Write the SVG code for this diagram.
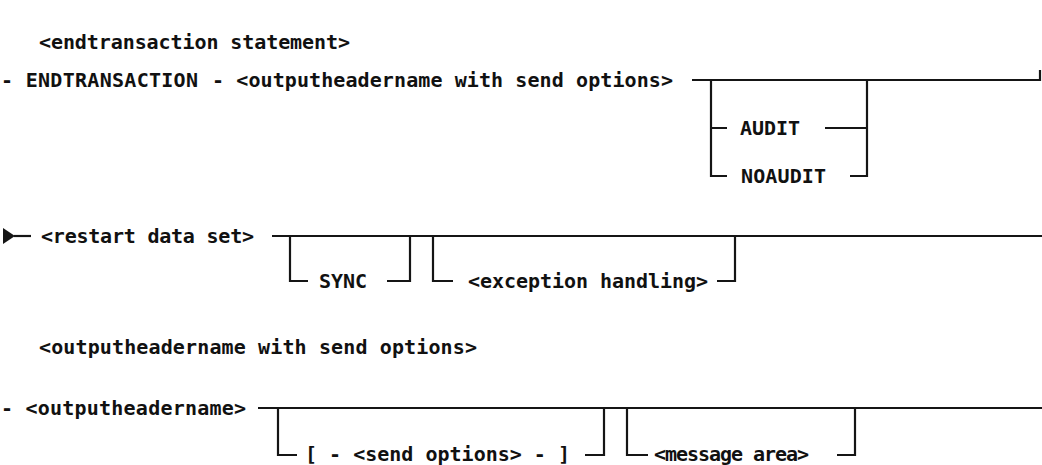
<svg xmlns="http://www.w3.org/2000/svg" width="1042" height="465" viewBox="0 0 1042 465">
  <style>
    .t { font-family: "DejaVu Sans Mono", "Liberation Mono", monospace; font-weight: bold; font-size: 20px; fill: #111; }
    .c { fill: none; stroke: #151515; stroke-width: 2.2; stroke-linecap: butt; stroke-linejoin: miter; }
  </style>
  <rect width="1042" height="465" fill="#fff"/>

  <!-- syntax: endtransaction statement -->
  <g id="title-endtransaction">
    <text class="t" x="39" y="49" textLength="311" lengthAdjust="spacing">&lt;endtransaction statement&gt;</text>
  </g>
  <g id="kw-endtransaction">
    <text class="t" x="1" y="87" textLength="197" lengthAdjust="spacing">- ENDTRANSACTION</text>
  </g>
  <g id="ref-outputheadername-send">
    <text class="t" x="212" y="87" textLength="461" lengthAdjust="spacing">- &lt;outputheadername with send options&gt;</text>
  </g>
  <g id="opt-audit">
    <text class="t" x="740" y="135" textLength="60" lengthAdjust="spacing">AUDIT</text>
  </g>
  <g id="opt-noaudit">
    <text class="t" x="741" y="183" textLength="85" lengthAdjust="spacing">NOAUDIT</text>
  </g>

  <!-- continuation row -->
  <g id="ref-restart">
    <text class="t" x="41" y="243" textLength="213" lengthAdjust="spacing">&lt;restart data set&gt;</text>
  </g>
  <g id="opt-sync">
    <text class="t" x="319" y="288" textLength="48" lengthAdjust="spacing">SYNC</text>
  </g>
  <g id="opt-exception">
    <text class="t" x="468" y="288" textLength="240" lengthAdjust="spacing">&lt;exception handling&gt;</text>
  </g>

  <!-- syntax: outputheadername with send options -->
  <g id="title-outputheadername">
    <text class="t" x="39" y="354" textLength="438" lengthAdjust="spacing">&lt;outputheadername with send options&gt;</text>
  </g>
  <g id="ref-outputheadername">
    <text class="t" x="1" y="415" textLength="245" lengthAdjust="spacing">- &lt;outputheadername&gt;</text>
  </g>
  <g id="opt-send-options">
    <text class="t" x="305" y="461" textLength="265" lengthAdjust="spacing">[ - &lt;send options&gt; - ]</text>
  </g>
  <g id="opt-message-area">
    <text class="t" x="654" y="461" textLength="155" lengthAdjust="spacing">&lt;message area&gt;</text>
  </g>

  <g id="connectors">
    <!-- row 1 main line and end bar -->
    <path class="c" d="M692 80 H1040 M1040 70 V81"/>
    <!-- AUDIT / NOAUDIT choice -->
    <path class="c" d="M711 80 V176 H727 M711 128 H727"/>
    <path class="c" d="M867 80 V176 H850 M867 128 H825"/>

    <!-- row 2: continuation arrow and main line -->
    <path d="M3 228 L15 236 L3 244 Z" fill="#151515"/>
    <path class="c" d="M14 236 H31"/>
    <path class="c" d="M272 236 H1042"/>
    <!-- SYNC option -->
    <path class="c" d="M290 236 V281 H308"/>
    <path class="c" d="M410 236 V281 H387"/>
    <!-- exception handling option -->
    <path class="c" d="M433 236 V281 H453"/>
    <path class="c" d="M735 236 V281 H717"/>

    <!-- row 3 main line -->
    <path class="c" d="M258 408 H1042"/>
    <!-- send options -->
    <path class="c" d="M278 408 V455 H297"/>
    <path class="c" d="M604 408 V455 H585"/>
    <!-- message area -->
    <path class="c" d="M627 408 V455 H648"/>
    <path class="c" d="M855 408 V455 H837"/>
  </g>
</svg>
